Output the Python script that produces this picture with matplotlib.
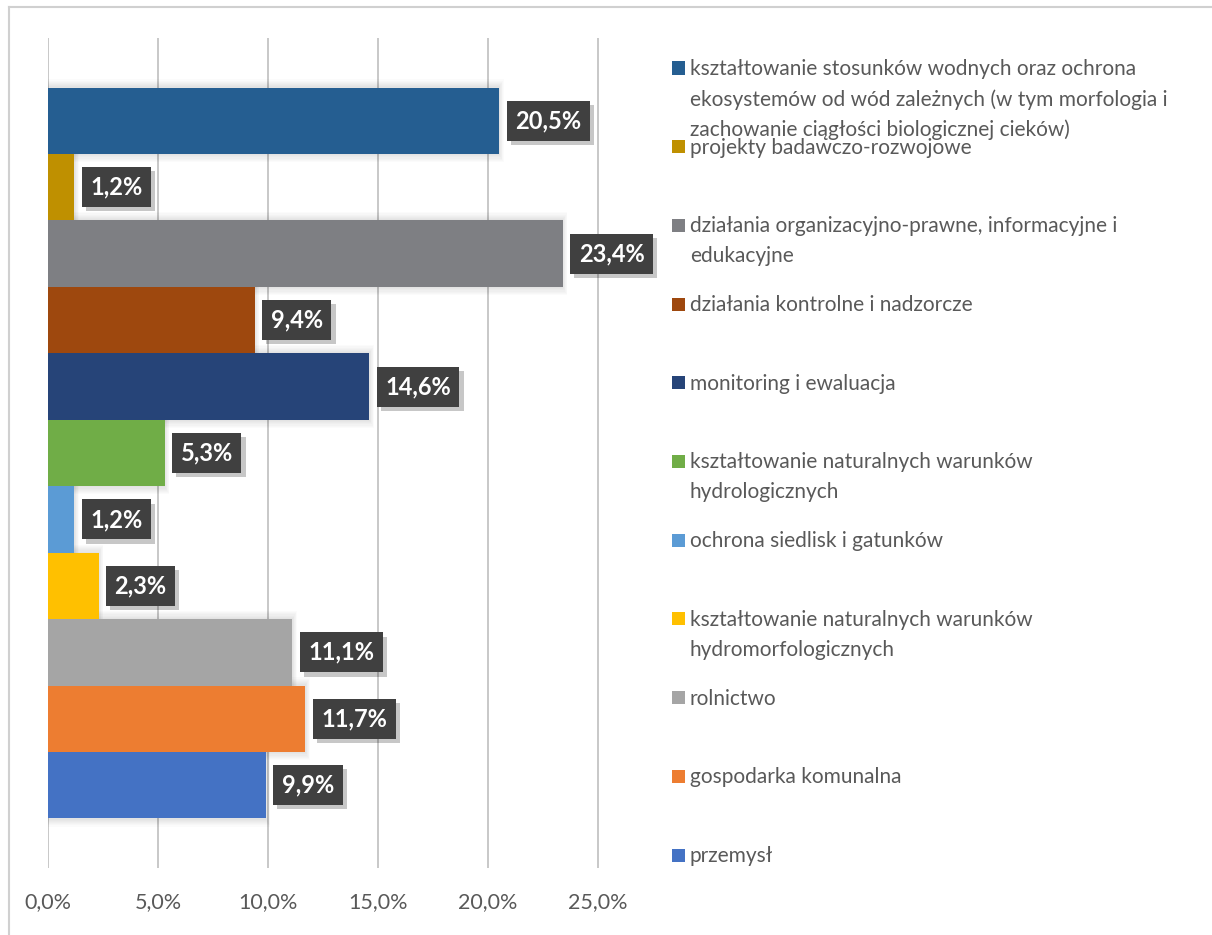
import matplotlib
matplotlib.use('Agg')
import matplotlib.pyplot as plt
import matplotlib.patheffects as pe
from matplotlib.patches import Rectangle
import textwrap

plt.rcParams['font.family'] = ['Lato', 'DejaVu Sans']

# categories top to bottom (same order as legend)
categories = [
    "kształtowanie stosunków wodnych oraz ochrona ekosystemów od wód zależnych (w tym morfologia i zachowanie ciągłości biologicznej cieków)",
    "projekty badawczo-rozwojowe",
    "działania organizacyjno-prawne, informacyjne i edukacyjne",
    "działania kontrolne i nadzorcze",
    "monitoring i ewaluacja",
    "kształtowanie naturalnych warunków hydrologicznych",
    "ochrona siedlisk i gatunków",
    "kształtowanie naturalnych warunków hydromorfologicznych",
    "rolnictwo",
    "gospodarka komunalna",
    "przemysł",
]
values = [20.5, 1.2, 23.4, 9.4, 14.6, 5.3, 1.2, 2.3, 11.1, 11.7, 9.9]
colors = ["#255E91", "#BF9000", "#7E7F83", "#9E480E", "#264478", "#70AD47",
          "#5B9BD5", "#FFC000", "#A5A5A5", "#ED7D31", "#4472C4"]
xticks = [0, 5, 10, 15, 20, 25]

W, H = 1212, 935
fig = plt.figure(figsize=(W / 100, H / 100), dpi=100)

# plot area in pixels
left, right, top, bottom = 48, 642, 38, 868
ax = fig.add_axes([left / W, 1 - bottom / H, (right - left) / W, (bottom - top) / H])

n = len(values)
ypos = [n - 1 - i for i in range(n)]

# soft shadow around the bars
for k in range(1, 8):
    ax.barh(ypos, [v + 0.06 * k for v in values], height=1 + 0.035 * k,
            left=-0.03 * k, color='black', alpha=0.014, linewidth=0, zorder=1)

ax.barh(ypos, values, height=1.0, color=colors, linewidth=0, zorder=3)

for y, v in zip(ypos, values):
    t = ax.annotate(f"{v:.1f}%".replace('.', ','), xy=(v, y), xytext=(16, 0),
                    textcoords='offset pixels', ha='left', va='center',
                    color='white', fontsize=17, fontweight='bold', zorder=5,
                    bbox=dict(boxstyle='square,pad=0.36', fc='#404040', ec='none'))
    t.get_bbox_patch().set_path_effects([
        pe.SimplePatchShadow(offset=(3, -3), shadow_rgbFace='#000000', alpha=0.22),
        pe.Normal()])

ax.set_xlim(0, 27)
ax.set_ylim(-0.5 - 0.745, n - 0.5 + 0.745)
ax.set_xticks(xticks)
ax.set_xticklabels([f"{x:.1f}%".replace('.', ',') for x in xticks])
ax.set_yticks([])
ax.grid(axis='x', color='#BFBFBF', linewidth=1.2, zorder=0)
ax.set_axisbelow(True)
for s in ax.spines.values():
    s.set_visible(False)
ax.tick_params(axis='x', length=0, pad=17, labelsize=15.5, labelcolor='#595959')

# legend, one entry per slot on the right
lx, ly0, lstep = 672, 68, 78.7
for i, (cat, c) in enumerate(zip(categories, colors)):
    y = ly0 + i * lstep
    fig.patches.append(Rectangle((lx / W, 1 - (y + 6.5) / H), 13 / W, 13 / H,
                                 transform=fig.transFigure, facecolor=c,
                                 edgecolor='none'))
    fig.text((lx + 18) / W, 1 - (y - 9) / H, "\n".join(textwrap.wrap(cat, 48)),
             ha='left', va='top', fontsize=15, color='#595959', linespacing=1.6)

# chart border (top and left visible)
fig.add_artist(plt.Line2D([9 / W, 1], [1 - 7 / H, 1 - 7 / H], color='#D0D0D0', lw=1.5))
fig.add_artist(plt.Line2D([9 / W, 9 / W], [0, 1 - 7 / H], color='#D0D0D0', lw=1.5))

fig.savefig("out.png", dpi=100)
